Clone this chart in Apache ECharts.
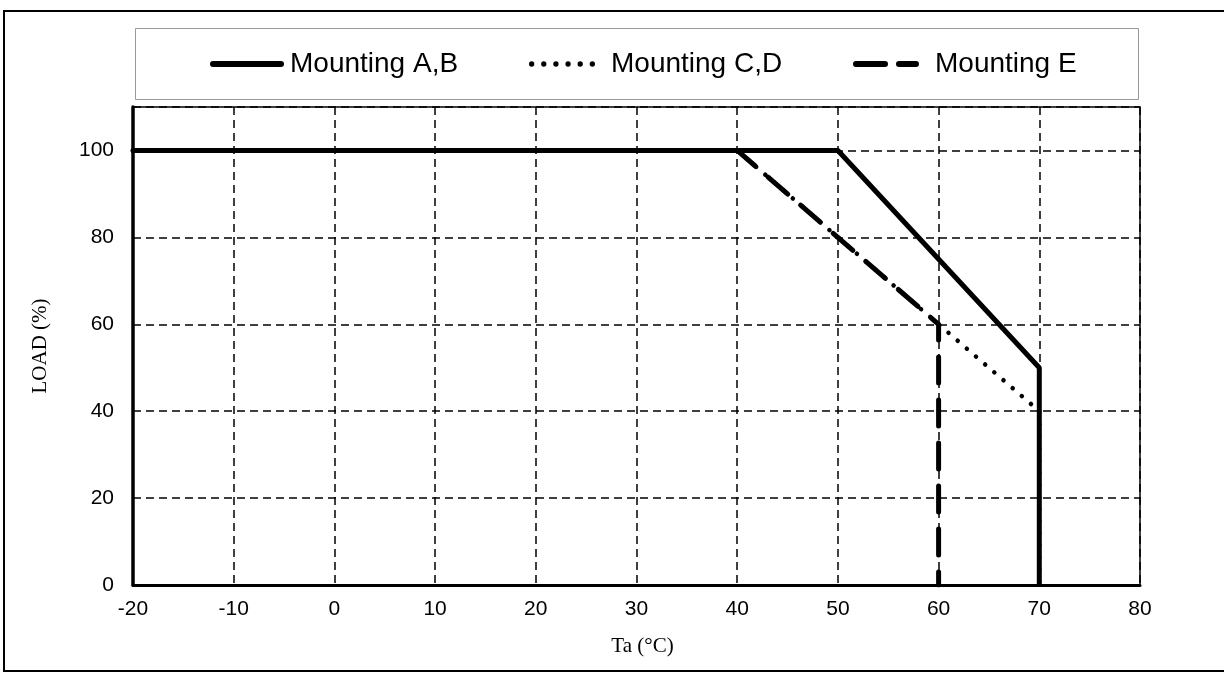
<!DOCTYPE html>
<html>
<head>
<meta charset="utf-8">
<script src="https://cdn.jsdelivr.net/npm/echarts@6/dist/echarts.min.js"></script>
<style>
html,body{margin:0;padding:0;background:#fff;}
#c{width:1224px;height:674px;}
</style>
</head>
<body>
<div id="c"></div>
<script>
const seriesNames = ['Mounting A,B', 'Mounting C,D', 'Mounting E'];
const mountingAB = [[-20, 100], [50, 100], [70, 50], [70, 0]];
const mountingCD = [[-20, 100], [40, 100], [60, 60], [70, 40], [70, 0]];
const mountingE = [[-20, 100], [40, 100], [60, 60], [60, 0]];
const xTicks = { min: -20, max: 80, interval: 10 };
const yTicks = { min: 0, max: 110, interval: 20 };
const xName = 'Ta (°C)';
const yName = 'LOAD (%)';

const chart = echarts.init(document.getElementById('c'), null, { renderer: 'canvas' });

const gridDash = { color: '#000', width: 1.5, type: [8, 5] };
const legendText = { fontFamily: 'Liberation Sans, Arial', fontSize: 28, color: '#000' };

// legend icon shapes
function dotsPath(n, step, r) {
  let p = 'path://';
  for (let i = 0; i < n; i++) {
    const cx = r + i * step;
    p += 'M' + (cx - r) + ',' + r + 'a' + r + ',' + r + ' 0 1,0 ' + (2 * r) + ',0a' + r + ',' + r + ' 0 1,0 ' + (-2 * r) + ',0Z';
  }
  return p;
}
const iconSolid = 'path://M3,0H71A3,3 0 0 1 71,6H3A3,3 0 0 1 3,0Z';
const iconDotted = dotsPath(6, 12.6, 2.75);
const iconDashed = 'path://M3,0H32A3,3 0 0 1 32,6H3A3,3 0 0 1 3,0ZM46,0H63A3,3 0 0 1 63,6H46A3,3 0 0 1 46,0Z';

const option = {
  backgroundColor: '#fff',
  animation: false,
  graphic: [
    { type: 'rect', z: -1, silent: true, shape: { x: 4, y: 11, width: 1224, height: 660 },
      style: { fill: 'none', stroke: '#000', lineWidth: 2 } },
    { type: 'rect', silent: true, shape: { x: 135.5, y: 28.5, width: 1003, height: 71 },
      style: { fill: 'none', stroke: '#999', lineWidth: 1 } }
  ],
  legend: [
    { left: 205, top: 45, itemWidth: 74, itemHeight: 6, itemGap: 5,
      textStyle: Object.assign({ padding: [0, 0, 0, 1] }, legendText),
      data: [{ name: seriesNames[0], icon: iconSolid, itemStyle: { color: '#000' } }] },
    { left: 524, top: 45, itemWidth: 66, itemHeight: 5.5,
      textStyle: Object.assign({ padding: [0, 0, 0, 11] }, legendText),
      data: [{ name: seriesNames[1], icon: iconDotted, itemStyle: { color: '#000' } }] },
    { left: 848, top: 45, itemWidth: 66, itemHeight: 6,
      textStyle: Object.assign({ padding: [0, 0, 0, 11] }, legendText),
      data: [{ name: seriesNames[2], icon: iconDashed, itemStyle: { color: '#000' } }] }
  ],
  grid: {
    left: 133, right: 84, top: 107, bottom: 89,
    show: true, borderColor: '#000', borderWidth: 1.5, backgroundColor: 'transparent'
  },
  xAxis: {
    type: 'value', min: xTicks.min, max: xTicks.max, interval: xTicks.interval,
    name: xName, nameLocation: 'middle', nameGap: 51,
    nameTextStyle: { fontFamily: 'Liberation Serif, Times New Roman', fontSize: 21, color: '#000', padding: [0, 0, 0, 12] },
    axisLine: { show: true, onZero: false, lineStyle: { color: '#000', width: 3 } },
    axisTick: { show: false },
    axisLabel: { margin: 14, fontFamily: 'Liberation Sans, Arial', fontSize: 21, color: '#000' },
    splitLine: { show: true, lineStyle: gridDash }
  },
  yAxis: {
    type: 'value', min: yTicks.min, max: yTicks.max, interval: yTicks.interval,
    name: yName, nameLocation: 'middle', nameGap: 82,
    nameTextStyle: { fontFamily: 'Liberation Serif, Times New Roman', fontSize: 21, color: '#000' },
    axisLine: { show: true, onZero: false, lineStyle: { color: '#000', width: 3.5 } },
    axisTick: { show: false },
    axisLabel: { margin: 19, showMaxLabel: false, fontFamily: 'Liberation Sans, Arial', fontSize: 21, color: '#000' },
    splitLine: { show: true, lineStyle: gridDash }
  },
  series: [
    { name: seriesNames[2], type: 'line', data: mountingE, symbol: 'none', z: 3,
      lineStyle: { color: '#000', width: 5, type: [26, 17], cap: 'round' }, itemStyle: { color: '#000' } },
    { name: seriesNames[1], type: 'line', data: mountingCD, symbol: 'none', z: 4,
      lineStyle: { color: '#000', width: 4.5, type: [0.1, 12], cap: 'round' }, itemStyle: { color: '#000' } },
    { name: seriesNames[0], type: 'line', data: mountingAB, symbol: 'none', z: 5,
      lineStyle: { color: '#000', width: 5, type: 'solid', cap: 'butt' }, itemStyle: { color: '#000' } }
  ]
};
chart.setOption(option);
</script>
</body>
</html>
